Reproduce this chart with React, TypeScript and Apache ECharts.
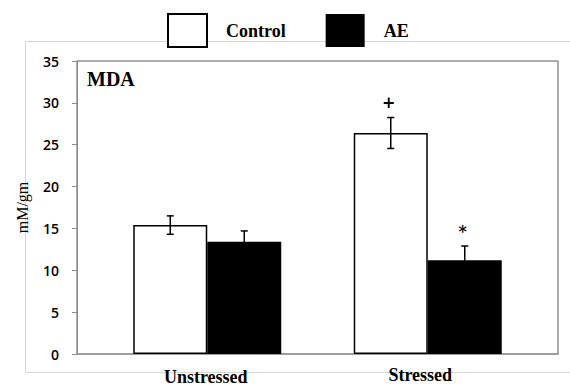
import React, { useEffect, useRef } from "react";
import * as echarts from "echarts";

const categories = ["Unstressed", "Stressed"];
const seriesNames = ["Control", "AE"];
const controlValues = [15.4, 26.4];
const controlErrors = [1.1, 1.85];
const aeValues = [13.4, 11.2];
const aeErrors = [1.3, 1.7];
const controlMarks = ["", "+"];
const aeMarks = ["", "*"];
const yTicks = { min: 0, max: 35, interval: 5 };
const yName = "mM/gm";
const panelTitle = "MDA";

const BAR_W = 74;
const SERIF = "Liberation Serif";

const serifBold = (size: number, fam: string = SERIF) => ({
  fontFamily: fam,
  fontWeight: "bold" as const,
  fontSize: size,
  color: "#000",
});

function errorSeries(
  name: string,
  values: number[],
  errors: number[],
  marks: string[],
  offset: number
) {
  return {
    type: "custom",
    name: name + " error",
    xAxisIndex: 1,
    yAxisIndex: 1,
    silent: true,
    z: 10,
    data: values.map((v, i) => [i, v, errors[i]]),
    renderItem: (params: any, api: any) => {
      const i = api.value(0);
      const v = api.value(1);
      const e = api.value(2);
      const top = api.coord([i, v + e]);
      const bot = api.coord([i, v - e]);
      const x = top[0] + offset;
      const cap = 3.5;
      const style = { stroke: "#000", lineWidth: 1.5 };
      const children: any[] = [
        { type: "line", shape: { x1: x, y1: top[1], x2: x, y2: bot[1] }, style },
        { type: "line", shape: { x1: x - cap, y1: top[1], x2: x + cap, y2: top[1] }, style },
        { type: "line", shape: { x1: x - cap, y1: bot[1], x2: x + cap, y2: bot[1] }, style },
      ];
      const m = marks[params.dataIndex];
      if (m) {
        children.push({
          type: "text",
          x: x - 2,
          y: top[1] - 15,
          style: {
            text: m,
            fontFamily: "DejaVu Serif",
            fontWeight: "bold",
            fontSize: 16,
            fill: "#000",
            align: "center",
            verticalAlign: "middle",
          },
        });
      }
      return { type: "group", children };
    },
  };
}

export default function App() {
  const ref = useRef<HTMLDivElement>(null);
  useEffect(() => {
    document.body.style.margin = "0";
    const chart = echarts.init(ref.current!, null, { renderer: "svg" });
    chart.setOption({
      animation: false,
      backgroundColor: "#fff",
      legend: {
        top: 13,
        left: 167,
        padding: 0,
        itemWidth: 39,
        itemHeight: 33,
        itemGap: 40,
        icon: "rect",
        data: [
          { name: seriesNames[0], itemStyle: { color: "#fff", borderColor: "#000", borderWidth: 2 } },
          { name: seriesNames[1], itemStyle: { color: "#000" } },
        ],
        textStyle: {
          ...serifBold(18),
          padding: [0, 0, 0, 14],
        },
      },
      graphic: [
        {
          type: "rect",
          shape: { x: 25.5, y: 41.5, width: 560, height: 331 },
          style: { fill: "none", stroke: "#d4d4d4", lineWidth: 1 },
          z: -10,
        },
        {
          type: "text",
          left: 87,
          top: 69,
          style: { text: panelTitle, fontFamily: SERIF, fontWeight: "bold", fontSize: 20, fill: "#000" },
        },
      ],
      grid: [
        { left: 77, right: 12, top: 61, bottom: 31, show: true, borderColor: "#5a5a5a", borderWidth: 1, outerBoundsMode: "none", containLabel: false },
        { left: 97, right: 32, top: 61, bottom: 31, outerBoundsMode: "none", containLabel: false },
      ],
      xAxis: [
        {
          type: "category",
          gridIndex: 0,
          data: categories,
          axisLine: { show: true, lineStyle: { color: "#999", width: 1.5 } },
          axisTick: { show: false },
          axisLabel: { show: false },
        },
        {
          type: "category",
          gridIndex: 1,
          data: categories,
          axisLine: { show: false },
          axisTick: { show: false },
          axisLabel: {
            margin: 13,
            formatter: (v: string) => (v === "Unstressed" ? `{u|${v}}` : `{s|${v}}`),
            rich: {
              u: { ...serifBold(18), lineHeight: 16, padding: [3, 3, 0, 0] },
              s: { ...serifBold(18), lineHeight: 16, padding: [0, 15, 0, 0] },
            },
          },
        },
      ],
      yAxis: [
        {
          type: "value",
          gridIndex: 0,
          min: yTicks.min,
          max: yTicks.max,
          interval: yTicks.interval,
          name: yName,
          nameLocation: "middle",
          nameRotate: 90,
          nameGap: 47,
          nameTextStyle: { fontFamily: SERIF, fontSize: 16, color: "#000" },
          axisLine: { show: true, lineStyle: { color: "#8c8c8c", width: 1 } },
          axisTick: { show: true, length: 5, lineStyle: { color: "#8c8c8c" } },
          axisLabel: {
            margin: 18,
            fontFamily: "Open Sans",
            fontWeight: 600,
            fontSize: 14,
            color: "#000",
          },
          splitLine: { show: false },
        },
        {
          type: "value",
          gridIndex: 1,
          min: yTicks.min,
          max: yTicks.max,
          interval: yTicks.interval,
          show: false,
          splitLine: { show: false },
        },
      ],
      series: [
        {
          type: "bar",
          name: seriesNames[0],
          xAxisIndex: 1,
          yAxisIndex: 1,
          data: controlValues,
          barWidth: BAR_W,
          barGap: "0%",
          itemStyle: { color: "#fff", borderColor: "#000", borderWidth: 1.5 },
        },
        {
          type: "bar",
          name: seriesNames[1],
          xAxisIndex: 1,
          yAxisIndex: 1,
          data: aeValues,
          barWidth: BAR_W,
          barGap: "0%",
          itemStyle: { color: "#000" },
        },
        errorSeries(seriesNames[0], controlValues, controlErrors, controlMarks, -BAR_W / 2),
        errorSeries(seriesNames[1], aeValues, aeErrors, aeMarks, BAR_W / 2),
      ],
    });
    return () => chart.dispose();
  }, []);
  return <div ref={ref} style={{ width: 570, height: 385 }} />;
}
